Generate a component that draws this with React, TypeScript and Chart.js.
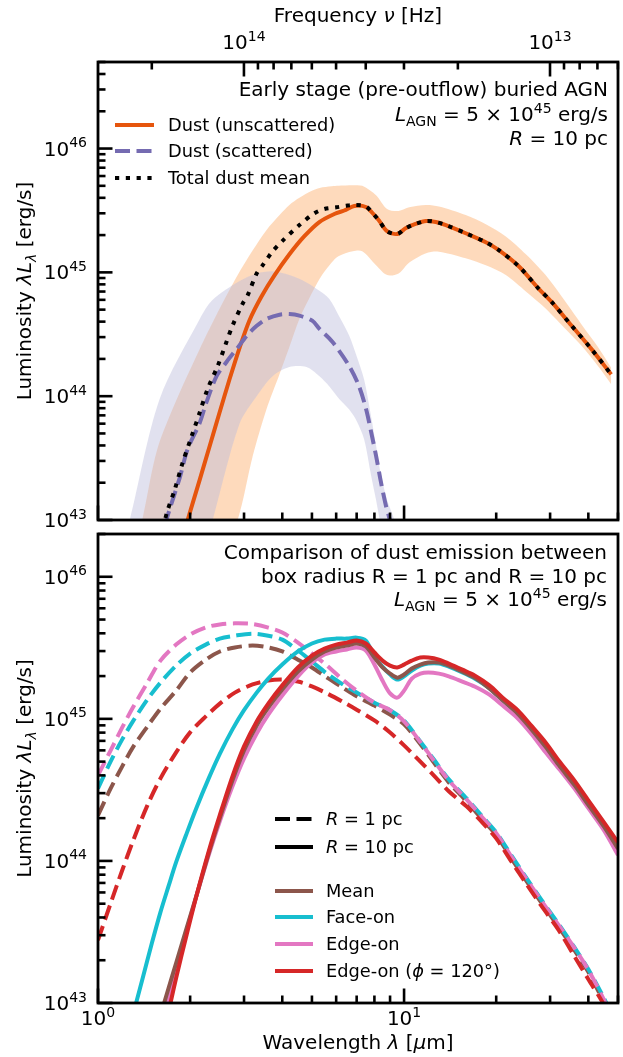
import { useEffect, useRef } from "react";
import { Chart, registerables } from "chart.js";

Chart.register(...registerables);

const FONT = "'DejaVu Sans', 'Noto Sans', sans-serif";

// ---------------- Top panel data (wavelength in µm, luminosity in erg/s) ----------------
const wlUnscattered = [1.85, 1.963, 2.149, 2.317, 2.497, 2.69, 2.901, 3.127, 3.421, 3.772, 4.221, 4.724, 5.286, 5.916, 6.376, 6.873, 7.5, 8.0, 8.3, 8.8, 9.5, 10.15, 10.9, 11.8, 12.7, 13.7, 15.9, 18.5, 20.4, 23.7, 27.5, 30.3, 35.3, 40.9, 47.5];
const lumUnscattered = [6e42, 1e43, 2.11e43, 3.96e43, 7.41e43, 1.37e44, 2.46e44, 4.11e44, 6.38e44, 9.45e44, 1.40e45, 1.96e45, 2.55e45, 2.96e45, 3.16e45, 3.44e45, 3.37e45, 2.9e45, 2.6e45, 2.15e45, 2.04e45, 2.28e45, 2.46e45, 2.6e45, 2.55e45, 2.41e45, 2.07e45, 1.75e45, 1.51e45, 1.12e45, 7.4e44, 5.8e44, 3.7e44, 2.41e44, 1.5e44];

const wlTotalMean = [1.6, 1.678, 1.78, 1.89, 2.02, 2.15, 2.28, 2.46, 2.63, 2.75, 2.97, 3.08, 3.3, 3.45, 3.72, 4.0, 4.55, 5.09, 5.49, 6.0, 6.47, 6.9, 7.5, 8.0, 8.3, 8.8, 9.5, 10.15, 10.9, 11.8, 12.7, 13.7, 15.9, 18.5, 20.4, 23.7, 27.5, 30.3, 35.3, 40.9, 47.5];
const lumTotalMean = [7e42, 1.14e43, 1.75e43, 2.9e43, 4.7e43, 7.4e43, 1.14e44, 1.75e44, 2.75e44, 3.7e44, 5.6e44, 6.5e44, 9.8e44, 1.14e45, 1.48e45, 1.79e45, 2.41e45, 3.0e45, 3.25e45, 3.35e45, 3.45e45, 3.5e45, 3.4e45, 2.9e45, 2.6e45, 2.15e45, 2.04e45, 2.28e45, 2.46e45, 2.6e45, 2.55e45, 2.41e45, 2.07e45, 1.75e45, 1.51e45, 1.12e45, 7.4e44, 5.8e44, 3.7e44, 2.41e44, 1.5e44];

const wlScattered = [1.65, 1.74, 1.85, 1.96, 2.15, 2.26, 2.44, 2.63, 2.84, 3.06, 3.3, 3.55, 3.92, 4.22, 4.55, 5.01, 5.29, 5.83, 6.62, 7.13, 7.52, 7.81, 8.11, 8.41, 8.74, 8.93, 9.2];
const lumScattered = [9e42, 1.37e43, 2.2e43, 3.7e43, 6.1e43, 8.9e43, 1.45e44, 1.89e44, 2.41e44, 3.07e44, 3.7e44, 4.2e44, 4.55e44, 4.6e44, 4.47e44, 4.07e44, 3.5e44, 2.75e44, 1.75e44, 1.2e44, 7.8e43, 5.1e43, 3.25e43, 2.0e43, 1.28e43, 1.06e43, 8e42];

const wlUnscatBand = [1.3, 1.4, 1.56, 1.81, 2.15, 2.4, 2.86, 3.2, 3.55, 3.92, 4.22, 4.55, 5.0, 5.3, 5.8, 6.1, 6.8, 7.3, 8.1, 8.8, 9.6, 10.4, 11.8, 13, 15.9, 18.5, 21.5, 25, 29, 34, 38, 43, 47.5];
const lumUnscatBandHi = [5e42, 1.05e43, 3.7e43, 9.5e43, 2.41e44, 4.2e44, 9.5e44, 1.5e45, 2.19e45, 2.9e45, 3.5e45, 4.0e45, 4.56e45, 4.8e45, 4.95e45, 5.0e45, 5.05e45, 5.0e45, 4.2e45, 3.25e45, 3.13e45, 3.35e45, 3.5e45, 3.4e45, 2.9e45, 2.45e45, 1.95e45, 1.4e45, 9.5e44, 5.6e44, 3.8e44, 2.5e44, 1.7e44];
const lumUnscatBandLo = [1e41, 1.5e41, 3e41, 8e41, 2e42, 3.5e42, 1e43, 3.25e43, 7.8e43, 1.51e44, 2.5e44, 4.2e44, 6.8e44, 8.9e44, 1.2e45, 1.35e45, 1.48e45, 1.48e45, 1.14e45, 9.5e44, 9.8e44, 1.2e45, 1.43e45, 1.47e45, 1.3e45, 1.14e45, 9.5e44, 7.0e44, 5.1e44, 3.4e44, 2.55e44, 1.75e44, 1.25e44];

const wlScatBand = [1.2, 1.27, 1.59, 2.15, 2.37, 2.9, 3.3, 3.72, 4.22, 4.8, 5.29, 5.7, 6.14, 6.62, 7.0, 7.4, 7.8, 8.1, 8.3, 8.8, 9.3, 9.6];
const lumScatBandHi = [6e42, 1e43, 9.5e43, 4.2e44, 6.0e44, 8.5e44, 9.8e44, 1.02e45, 9.5e44, 8.3e44, 7.1e44, 6.1e44, 4.4e44, 3.07e44, 2.1e44, 1.37e44, 6.9e43, 4.0e43, 2.7e43, 1.45e43, 1.0e43, 7e42];
const lumScatBandLo = [1e41, 2e41, 6e41, 4e42, 1e43, 6e43, 1.0e44, 1.45e44, 1.72e44, 1.72e44, 1.45e44, 1.2e44, 9.5e43, 7.8e43, 6.3e43, 4.5e43, 2.3e43, 1.45e43, 1.05e43, 5e42, 3e42, 2e42];

// ---------------- Bottom panel data ----------------
const wlSmallBox = [1.0, 1.1, 1.2, 1.3, 1.45, 1.6, 1.8, 2.0, 2.25, 2.5, 2.8, 3.2, 3.6, 4.0, 4.5, 5.0, 5.6, 6.3, 7.0, 8.0, 9.0, 10, 11.2, 12.5, 14, 16, 18, 20, 22.5, 25, 28, 32, 36, 40, 45, 50];
const lumMean1pc = [2.095e44, 3.24e44, 4.63e44, 6.3e44, 8.84e44, 1.18e45, 1.58e45, 2.12e45, 2.61e45, 2.98e45, 3.18e45, 3.28e45, 3.18e45, 2.98e45, 2.61e45, 2.30e45, 1.95e45, 1.66e45, 1.44e45, 1.24e45, 1.07e45, 9.14e44, 6.82e44, 4.94e44, 3.57e44, 2.63e44, 1.96e44, 1.52e44, 1.03e44, 7.32e43, 5.13e43, 3.42e43, 2.36e43, 1.65e43, 1.01e43, 6.3e42];
const lumFace1pc = [3.24e44, 5.02e44, 7.17e44, 9.59e44, 1.37e45, 1.80e45, 2.37e45, 2.88e45, 3.33e45, 3.67e45, 3.85e45, 3.98e45, 3.85e45, 3.61e45, 3.03e45, 2.53e45, 2.08e45, 1.75e45, 1.53e45, 1.30e45, 1.15e45, 9.74e44, 7.1e44, 5.19e44, 3.75e44, 2.76e44, 2.06e44, 1.59e44, 1.08e44, 7.68e43, 5.38e43, 3.59e43, 2.47e43, 1.73e43, 1.08e43, 6.7e42];
const lumEdge1pc = [4.0e44, 6.0e44, 8.7e44, 1.20e45, 1.80e45, 2.57e45, 3.33e45, 3.92e45, 4.40e45, 4.62e45, 4.70e45, 4.65e45, 4.39e45, 4.05e45, 3.44e45, 2.88e45, 2.37e45, 1.89e45, 1.58e45, 1.30e45, 1.15e45, 9.6e44, 7.05e44, 5.1e44, 3.69e44, 2.71e44, 2.03e44, 1.57e44, 1.06e44, 7.56e43, 5.3e43, 3.53e43, 2.44e43, 1.71e43, 1.05e43, 6.5e42];
const lumEdge120_1pc = [2.77e43, 5.04e43, 8.6e43, 1.375e44, 2.46e44, 3.81e44, 5.81e44, 8.03e44, 1.04e45, 1.28e45, 1.53e45, 1.745e45, 1.86e45, 1.89e45, 1.83e45, 1.69e45, 1.51e45, 1.32e45, 1.16e45, 9.74e44, 8.02e44, 6.5e44, 5.1e44, 4.0e44, 3.09e44, 2.42e44, 1.87e44, 1.44e44, 9.8e43, 6.97e43, 4.88e43, 3.26e43, 2.14e43, 1.47e43, 9.7e42, 5.96e42];

const wlLargeBox = [1.3, 1.34, 1.4, 1.5, 1.6, 1.7, 1.8, 1.95, 2.1, 2.3, 2.5, 2.75, 3.0, 3.3, 3.6, 4.0, 4.5, 5.0, 5.5, 6.0, 6.5, 7.0, 7.5, 8.0, 8.5, 9.0, 9.5, 10.0, 10.6, 11.3, 12.0, 13.0, 14.0, 15.5, 17, 19, 21, 23.5, 26, 29, 32, 36, 40, 45, 50];
const lumMean10pc = [1.8e42, 2.3e42, 3.2e42, 5.15e42, 8.2e42, 1.27e43, 1.91e43, 3.4e43, 5.74e43, 1.13e44, 2.0e44, 3.69e44, 6.0e44, 8.99e44, 1.20e45, 1.61e45, 2.15e45, 2.61e45, 2.98e45, 3.18e45, 3.28e45, 3.39e45, 3.23e45, 2.70e45, 2.30e45, 2.08e45, 1.95e45, 2.05e45, 2.26e45, 2.41e45, 2.49e45, 2.49e45, 2.37e45, 2.15e45, 1.95e45, 1.64e45, 1.35e45, 1.09e45, 8.5e44, 6.35e44, 4.74e44, 3.43e44, 2.48e44, 1.74e44, 1.22e44];
const lumFace10pc = [8.2e42, 1.05e43, 1.5e43, 2.64e43, 4.36e43, 6.64e43, 9.8e43, 1.57e44, 2.38e44, 3.81e44, 5.67e44, 8.43e44, 1.15e45, 1.53e45, 1.92e45, 2.41e45, 2.98e45, 3.39e45, 3.61e45, 3.67e45, 3.67e45, 3.73e45, 3.56e45, 2.74e45, 2.33e45, 2.05e45, 1.89e45, 1.99e45, 2.19e45, 2.37e45, 2.45e45, 2.45e45, 2.33e45, 2.12e45, 1.92e45, 1.64e45, 1.35e45, 1.09e45, 8.57e44, 6.4e44, 4.78e44, 3.46e44, 2.5e44, 1.75e44, 1.23e44];
const lumEdge10pc = [1.2e42, 1.5e42, 2.1e42, 3.6e42, 6.46e42, 1.07e43, 1.71e43, 3.26e43, 5.74e43, 1.10e44, 1.9e44, 3.35e44, 5.27e44, 7.89e44, 1.07e45, 1.46e45, 1.99e45, 2.49e45, 2.84e45, 2.98e45, 3.08e45, 3.18e45, 3.03e45, 2.41e45, 1.86e45, 1.51e45, 1.41e45, 1.58e45, 1.92e45, 2.08e45, 2.12e45, 2.08e45, 1.99e45, 1.83e45, 1.69e45, 1.48e45, 1.24e45, 1.01e45, 7.89e44, 5.81e44, 4.48e44, 3.24e44, 2.35e44, 1.64e44, 1.10e44];
const lumEdge120_10pc = [1.2e42, 1.5e42, 2.0e42, 3.0e42, 4.7e42, 8.64e42, 1.5e43, 3.05e43, 5.74e43, 1.17e44, 2.1e44, 3.94e44, 6.4e44, 9.59e44, 1.28e45, 1.72e45, 2.30e45, 2.79e45, 3.12e45, 3.33e45, 3.44e45, 3.56e45, 3.39e45, 2.93e45, 2.57e45, 2.37e45, 2.30e45, 2.41e45, 2.57e45, 2.70e45, 2.70e45, 2.61e45, 2.45e45, 2.22e45, 2.02e45, 1.72e45, 1.41e45, 1.15e45, 8.99e44, 6.82e44, 5.1e44, 3.69e44, 2.67e44, 1.87e44, 1.35e44];

// ---------------- Axes ----------------
const wlRange = [1, 50];
const lumRangeTop = [1e43, 5e46];
const lumRangeBottom = [1e43, 2e46];
const freqMajor = [1e14, 1e13];
const freqMinor = [2e14, 9e13, 8e13, 7e13, 6e13, 5e13, 4e13, 3e13, 2e13, 9e12, 8e12, 7e12, 6e12];
const C_UM_HZ = 2.99792458e14; // λ[µm] = c / ν

// colours
const COL_UNSCAT = "#e6550d";
const COL_SCAT = "#756bb1";
const BAND_UNSCAT = "rgba(253,174,107,0.45)";
const BAND_SCAT = "rgba(188,189,220,0.45)";
const COL_MEAN = "#8c564b";
const COL_FACE = "#17becf";
const COL_EDGE = "#e377c2";
const COL_EDGE120 = "#d62728";

const DASH = [15, 6.5];
const DOT = [4.2, 6.6];
const LW = 4;
const TENSION = 0.3;

type Part = { t: string; s: number; i?: boolean; dy?: number };

function fontOf(p: Part) {
  return `${p.i ? "italic " : ""}${p.s}px ${FONT}`;
}
function drawParts(ctx: CanvasRenderingContext2D, parts: Part[], x: number, y: number, align: "left" | "right" | "center") {
  let w = 0;
  for (const p of parts) {
    ctx.font = fontOf(p);
    w += ctx.measureText(p.t).width;
  }
  let cx = align === "left" ? x : align === "right" ? x - w : x - w / 2;
  ctx.textAlign = "left";
  ctx.textBaseline = "alphabetic";
  ctx.fillStyle = "#000";
  for (const p of parts) {
    ctx.font = fontOf(p);
    ctx.fillText(p.t, cx, y + (p.dy || 0));
    cx += ctx.measureText(p.t).width;
  }
}
const pow10 = (e: number): Part[] => [
  { t: "10", s: 20 },
  { t: String(e), s: 14, dy: -8.5 },
];

function logTicks(min: number, max: number) {
  const out: { v: number; major: boolean; exp: number }[] = [];
  for (let e = Math.floor(Math.log10(min)); e <= Math.ceil(Math.log10(max)); e++) {
    for (let k = 1; k <= 9; k++) {
      const v = k * Math.pow(10, e);
      if (v >= min * (1 - 1e-9) && v <= max * (1 + 1e-9)) out.push({ v, major: k === 1, exp: e });
    }
  }
  return out;
}

function seg(ctx: CanvasRenderingContext2D, x1: number, y1: number, x2: number, y2: number) {
  ctx.beginPath();
  ctx.moveTo(x1, y1);
  ctx.lineTo(x2, y2);
  ctx.stroke();
}

function drawAxesCommon(chart: any, bottomLabels: boolean) {
  const ctx: CanvasRenderingContext2D = chart.ctx;
  const { left, right, top, bottom } = chart.chartArea;
  const xs = chart.scales.x;
  const ys = chart.scales.y;
  ctx.save();
  ctx.strokeStyle = "#000";
  ctx.lineCap = "butt";
  ctx.setLineDash([]);
  ctx.lineWidth = 2.6;
  for (const t of logTicks(ys.min, ys.max)) {
    const py = ys.getPixelForValue(t.v);
    seg(ctx, left, py, left + (t.major ? 14.5 : 7.5), py);
  }
  for (const t of logTicks(xs.min, xs.max)) {
    const px = xs.getPixelForValue(t.v);
    seg(ctx, px, bottom, px, bottom - (t.major ? 14.5 : 7.5));
  }
  ctx.lineWidth = 2.8;
  ctx.strokeRect(left, top, right - left, bottom - top);
  for (const t of logTicks(ys.min, ys.max)) {
    if (!t.major) continue;
    drawParts(ctx, pow10(t.exp), left - 11, ys.getPixelForValue(t.v) + 7, "right");
  }
  if (bottomLabels) {
    for (const t of logTicks(xs.min, xs.max)) {
      if (!t.major) continue;
      drawParts(ctx, pow10(t.exp), xs.getPixelForValue(t.v), bottom + 22, "center");
    }
    drawParts(
      ctx,
      [
        { t: "Wavelength ", s: 20 },
        { t: "λ", s: 20, i: true },
        { t: " [", s: 20 },
        { t: "μ", s: 20, i: true },
        { t: "m]", s: 20 },
      ],
      (left + right) / 2,
      bottom + 46,
      "center"
    );
  }
  ctx.save();
  ctx.translate(31, (top + bottom) / 2);
  ctx.rotate(-Math.PI / 2);
  drawParts(
    ctx,
    [
      { t: "Luminosity ", s: 20 },
      { t: "λL", s: 20, i: true },
      { t: "λ", s: 14, i: true, dy: 4.5 },
      { t: " [erg/s]", s: 20 },
    ],
    0,
    0,
    "center"
  );
  ctx.restore();
  ctx.restore();
}

function legendLine(ctx: CanvasRenderingContext2D, x1: number, x2: number, y: number, color: string, dash: number[]) {
  ctx.save();
  ctx.strokeStyle = color;
  ctx.lineWidth = LW;
  ctx.lineCap = "butt";
  ctx.setLineDash(dash);
  seg(ctx, x1, y, x2, y);
  ctx.restore();
}

const LEG = 17.8;

const topDecor = {
  id: "topDecor",
  afterDraw(chart: any) {
    const ctx: CanvasRenderingContext2D = chart.ctx;
    const { left, right, top } = chart.chartArea;
    const xs = chart.scales.x;
    drawAxesCommon(chart, false);
    ctx.save();
    ctx.strokeStyle = "#000";
    ctx.lineWidth = 2.6;
    for (const f of freqMinor) {
      const wl = C_UM_HZ / f;
      if (wl < wlRange[0] || wl > wlRange[1]) continue;
      const px = xs.getPixelForValue(wl);
      seg(ctx, px, top, px, top + 7.5);
    }
    for (const f of freqMajor) {
      const px = xs.getPixelForValue(C_UM_HZ / f);
      seg(ctx, px, top, px, top + 14.5);
      drawParts(ctx, pow10(Math.round(Math.log10(f))), px, top - 13, "center");
    }
    drawParts(
      ctx,
      [
        { t: "Frequency ", s: 20 },
        { t: "ν", s: 20, i: true },
        { t: " [Hz]", s: 20 },
      ],
      (left + right) / 2,
      top - 40,
      "center"
    );
    const ax = right - 10;
    drawParts(ctx, [{ t: "Early stage (pre-outflow) buried AGN", s: 20 }], ax, top + 34, "right");
    drawParts(
      ctx,
      [
        { t: "L", s: 20, i: true },
        { t: "AGN", s: 14, dy: 4.5 },
        { t: " = 5 × 10", s: 20 },
        { t: "45", s: 14, dy: -8.5 },
        { t: " erg/s", s: 20 },
      ],
      ax,
      top + 59,
      "right"
    );
    drawParts(
      ctx,
      [
        { t: "R", s: 20, i: true },
        { t: " = 10 pc", s: 20 },
      ],
      ax,
      top + 83,
      "right"
    );
    const lx1 = left + 17, lx2 = left + 56, tx = left + 70;
    const rows: [number, string, number[], string][] = [
      [top + 63, COL_UNSCAT, [], "Dust (unscattered)"],
      [top + 89, COL_SCAT, DASH, "Dust (scattered)"],
      [top + 116, "#000", DOT, "Total dust mean"],
    ];
    for (const [y, c, d, label] of rows) {
      legendLine(ctx, lx1, lx2, y, c, d);
      drawParts(ctx, [{ t: label, s: LEG }], tx, y + 6.3, "left");
    }
    ctx.restore();
  },
};

const bottomDecor = {
  id: "bottomDecor",
  afterDraw(chart: any) {
    const ctx: CanvasRenderingContext2D = chart.ctx;
    const { right, top, bottom } = chart.chartArea;
    drawAxesCommon(chart, true);
    ctx.save();
    const ax = right - 11;
    drawParts(ctx, [{ t: "Comparison of dust emission between", s: 20 }], ax, top + 25, "right");
    drawParts(ctx, [{ t: "box radius R = 1 pc and R = 10 pc", s: 20 }], ax, top + 49, "right");
    drawParts(
      ctx,
      [
        { t: "L", s: 20, i: true },
        { t: "AGN", s: 14, dy: 4.5 },
        { t: " = 5 × 10", s: 20 },
        { t: "45", s: 14, dy: -8.5 },
        { t: " erg/s", s: 20 },
      ],
      ax,
      top + 72,
      "right"
    );
    const lx1 = 275, lx2 = 313, tx = 326;
    const rows: [number, string, number[], Part[]][] = [
      [bottom - 184, "#000", DASH, [{ t: "R", s: LEG, i: true }, { t: " = 1 pc", s: LEG }]],
      [bottom - 156, "#000", [], [{ t: "R", s: LEG, i: true }, { t: " = 10 pc", s: LEG }]],
      [bottom - 112, COL_MEAN, [], [{ t: "Mean", s: LEG }]],
      [bottom - 86, COL_FACE, [], [{ t: "Face-on", s: LEG }]],
      [bottom - 59, COL_EDGE, [], [{ t: "Edge-on", s: LEG }]],
      [
        bottom - 32,
        COL_EDGE120,
        [],
        [
          { t: "Edge-on (", s: LEG },
          { t: "ϕ", s: LEG, i: true },
          { t: " = 120°)", s: LEG },
        ],
      ],
    ];
    for (const [y, c, d, parts] of rows) {
      legendLine(ctx, lx1, lx2, y, c, d);
      drawParts(ctx, parts, tx, y + 6.3, "left");
    }
    ctx.restore();
  },
};

function pts(wl: number[], lum: number[]) {
  return wl.map((x, i) => ({ x, y: lum[i] }));
}

function lineDs(label: string, wl: number[], lum: number[], color: string, dash: number[]) {
  return {
    label,
    data: pts(wl, lum),
    borderColor: color,
    backgroundColor: color,
    borderWidth: LW,
    borderDash: dash,
    borderCapStyle: "butt",
    borderJoinStyle: "round",
    pointRadius: 0,
    fill: false,
    tension: TENSION,
    clip: 0,
  };
}

function bandDs(label: string, wl: number[], lum: number[], color: string, fillNext: boolean) {
  return {
    label,
    data: pts(wl, lum),
    borderColor: "rgba(0,0,0,0)",
    backgroundColor: color,
    borderWidth: 0,
    pointRadius: 0,
    fill: fillNext ? "+1" : false,
    tension: TENSION,
    clip: 0,
  };
}

function baseOptions(padding: any, yRange: number[]) {
  return {
    responsive: false,
    animation: false,
    devicePixelRatio: 1,
    events: [],
    layout: { padding },
    scales: {
      x: { type: "logarithmic", min: wlRange[0], max: wlRange[1], display: false },
      y: { type: "logarithmic", min: yRange[0], max: yRange[1], display: false },
    },
    plugins: { legend: { display: false }, tooltip: { enabled: false }, title: { display: false } },
  };
}

export default function App() {
  const topRef = useRef<HTMLCanvasElement>(null);
  const botRef = useRef<HTMLCanvasElement>(null);

  useEffect(() => {
    // the first dataset is drawn on top
    const topChart = new Chart(topRef.current as HTMLCanvasElement, {
      type: "line",
      data: {
        datasets: [
          lineDs("Total dust mean", wlTotalMean, lumTotalMean, "#000", DOT),
          lineDs("Dust (scattered)", wlScattered, lumScattered, COL_SCAT, DASH),
          lineDs("Dust (unscattered)", wlUnscattered, lumUnscattered, COL_UNSCAT, []),
          bandDs("scattered hi", wlScatBand, lumScatBandHi, BAND_SCAT, true),
          bandDs("scattered lo", wlScatBand, lumScatBandLo, BAND_SCAT, false),
          bandDs("unscattered hi", wlUnscatBand, lumUnscatBandHi, BAND_UNSCAT, true),
          bandDs("unscattered lo", wlUnscatBand, lumUnscatBandLo, BAND_UNSCAT, false),
        ] as any,
      },
      options: baseOptions({ left: 98, right: 5, top: 62, bottom: 8 }, lumRangeTop) as any,
      plugins: [topDecor],
    });

    const bottomChart = new Chart(botRef.current as HTMLCanvasElement, {
      type: "line",
      data: {
        datasets: [
          lineDs("Edge-on (phi=120) R=10", wlLargeBox, lumEdge120_10pc, COL_EDGE120, []),
          lineDs("Mean R=10", wlLargeBox, lumMean10pc, COL_MEAN, []),
          lineDs("Edge-on R=10", wlLargeBox, lumEdge10pc, COL_EDGE, []),
          lineDs("Face-on R=10", wlLargeBox, lumFace10pc, COL_FACE, []),
          lineDs("Edge-on (phi=120) R=1", wlSmallBox, lumEdge120_1pc, COL_EDGE120, DASH),
          lineDs("Edge-on R=1", wlSmallBox, lumEdge1pc, COL_EDGE, DASH),
          lineDs("Face-on R=1", wlSmallBox, lumFace1pc, COL_FACE, DASH),
          lineDs("Mean R=1", wlSmallBox, lumMean1pc, COL_MEAN, DASH),
        ] as any,
      },
      options: baseOptions({ left: 98, right: 5, top: 6, bottom: 54 }, lumRangeBottom) as any,
      plugins: [bottomDecor],
    });

    return () => {
      topChart.destroy();
      bottomChart.destroy();
    };
  }, []);

  return (
    <div style={{ position: "absolute", left: 0, top: 0, width: 623, height: 1057, background: "#fff" }}>
      <canvas ref={topRef} width={623} height={528} style={{ position: "absolute", left: 0, top: 0 }} />
      <canvas ref={botRef} width={623} height={529} style={{ position: "absolute", left: 0, top: 528 }} />
    </div>
  );
}
